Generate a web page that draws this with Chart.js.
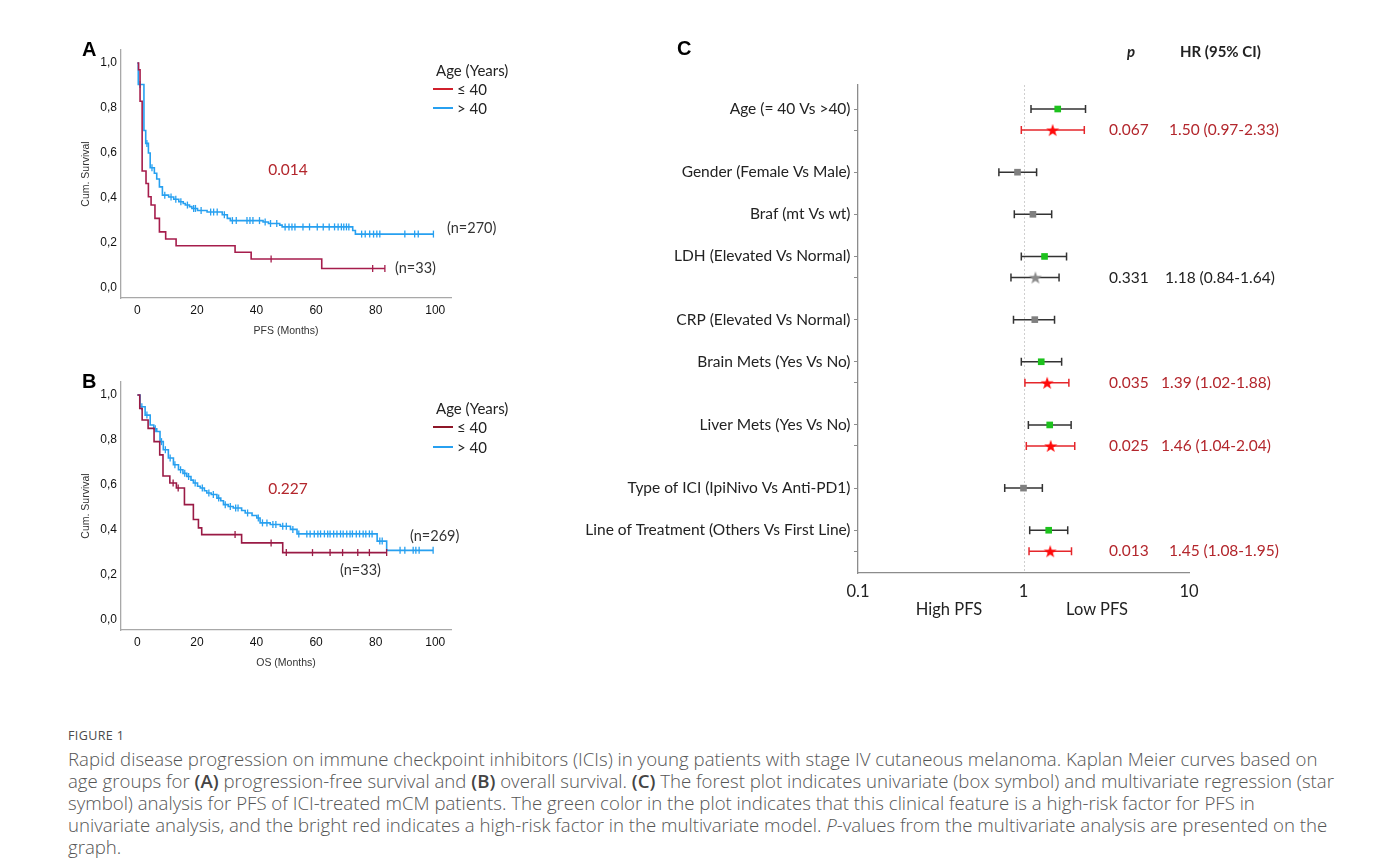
<!DOCTYPE html>
<html>
<head>
<meta charset="utf-8">
<title>Figure 1</title>
<script src="https://cdn.jsdelivr.net/npm/chart.js@4.4.1/dist/chart.umd.min.js"></script>
<style>
  html, body { margin: 0; padding: 0; background: #fff; }
  #page { position: relative; width: 1373px; height: 859px; overflow: hidden; font-family: Lato, "Open Sans", sans-serif; }
  canvas { position: absolute; }
  .t { position: absolute; white-space: nowrap; line-height: 1; transform: translateY(-50%); }
  .c { transform: translate(-50%, -50%); }
  .letter { font-family: "Liberation Sans", Arial, sans-serif; font-weight: bold; font-size: 20px; color: #000; }
  .leg { font-size: 15px; color: #222; }
  .key { position: absolute; width: 20px; height: 0; border-top: 2px solid; }
  .pval { font-size: 15.5px; color: #b3262c; }
  .note { font-size: 14.5px; color: #333; }
  .fx { font-size: 15.5px; }
  .head { font-size: 15px; font-weight: bold; color: #222; }
  .cap { position: absolute; left: 68px; color: #555; font-family: "Open Sans", "Noto Sans", sans-serif; white-space: nowrap; }
  #figno { top: 726px; font-size: 12.5px; letter-spacing: 0.4px; line-height: 20px; color: #4a4a4a; }
  #capBody { top: 748px; font-size: 16px; line-height: 22px; font-weight: 300; }
  #capBody b { font-weight: 600; color: #444; }
</style>
</head>
<body>
<div id="page">
  <canvas id="pfsChart" width="470" height="320" style="left:60px; top:30px"></canvas>
  <canvas id="osChart" width="470" height="320" style="left:60px; top:362px"></canvas>
  <canvas id="forestChart" width="700" height="600" style="left:560px; top:30px"></canvas>

  <div class="t letter" style="left:82px; top:49px">A</div>
  <div class="t letter" style="left:82px; top:381px">B</div>
  <div class="t letter" style="left:677px; top:48px">C</div>

  <!-- panel A notes -->
  <div class="t leg" style="left:436px; top:70px">Age (Years)</div>
  <div class="key" style="left:433px; top:88px; border-color:#d0202c"></div>
  <div class="t leg" style="left:457px; top:89px">≤ 40</div>
  <div class="key" style="left:433px; top:107px; border-color:#27a0f0"></div>
  <div class="t leg" style="left:457px; top:108px">&gt; 40</div>
  <div class="t pval c" style="left:288px; top:170px">0.014</div>
  <div class="t note" style="left:447px; top:228px">(n=270)</div>
  <div class="t note" style="left:395px; top:268px">(n=33)</div>

  <!-- panel B notes -->
  <div class="t leg" style="left:436px; top:408px">Age (Years)</div>
  <div class="key" style="left:433px; top:426px; border-color:#8e1628"></div>
  <div class="t leg" style="left:457px; top:427px">≤ 40</div>
  <div class="key" style="left:433px; top:446px; border-color:#27a0f0"></div>
  <div class="t leg" style="left:457px; top:447px">&gt; 40</div>
  <div class="t pval c" style="left:288px; top:489px">0.227</div>
  <div class="t note" style="left:410px; top:536px">(n=269)</div>
  <div class="t note" style="left:340px; top:570px">(n=33)</div>

  <!-- panel C headers -->
  <div class="t head" style="left:1127px; top:51px; font-style:italic">p</div>
  <div class="t head" style="left:1180px; top:51px">HR (95% CI)</div>
  <div class="t fx c" style="left:949px; top:609px; font-size:16.5px; color:#222">High PFS</div>
  <div class="t fx c" style="left:1097px; top:609px; font-size:16.5px; color:#222">Low PFS</div>
  <div id="forestText"></div>

  <div class="cap" id="figno">FIGURE 1</div>
  <div class="cap" id="capBody">
    <span id="firstLine">Rapid disease progression on immune checkpoint inhibitors (ICIs) in young patients with stage IV cutaneous melanoma. Kaplan Meier curves based on</span><br>
    age groups for <b>(A)</b> progression-free survival and <b>(B)</b> overall survival. <b>(C)</b> The forest plot indicates univariate (box symbol) and multivariate regression (star<br>
    symbol) analysis for PFS of ICI-treated mCM patients. The green color in the plot indicates that this clinical feature is a high-risk factor for PFS in<br>
    univariate analysis, and the bright red indicates a high-risk factor in the multivariate model. <i>P</i>-values from the multivariate analysis are presented on the<br>
    graph.
  </div>
</div>

<script>
// ---- Kaplan Meier data (time in months, cumulative survival, censored flag) ----
const monthTicks = [0, 20, 40, 60, 80, 100];
const monthTickLabels = ['0', '20', '40', '60', '80', '100'];
const survTicks = [0, 0.2, 0.4, 0.6, 0.8, 1.0];
const survTickLabels = ['0,0', '0,2', '0,4', '0,6', '0,8', '1,0'];

// PFS, age <= 40
const pfsYoungT = [0, 0.4, 0.9, 1.6, 2.9, 3.7, 4.6, 5.9, 7.4, 9.5, 13.0, 32.8, 38.2, 44.9, 61.9, 79.0, 83.1];
const pfsYoungS = [1.0, 0.97, 0.83, 0.52, 0.465, 0.406, 0.369, 0.31, 0.25, 0.218, 0.188, 0.159, 0.129, 0.129, 0.087, 0.087, 0.087];
const pfsYoungC = [0, 0, 0, 0, 0, 0, 0, 0, 0, 0, 0, 0, 0, 1, 0, 1, 1];

// PFS, age > 40
const pfsOldT = [0, 0.3, 0.9, 2.2, 2.8, 3.2, 3.7, 4.3, 4.9, 5.7, 6.5, 7.4, 8.4, 9.2, 10.5, 11.3, 12.2, 12.9, 13.9, 14.6,
  15.4, 16.1, 16.8, 17.5, 18.3, 18.9, 19.5, 20.2, 21.4, 23.4, 24.6, 25.6, 26.8, 28.5, 29.2, 30.2, 31.2, 31.9, 33.2, 36.8,
  37.8, 38.8, 41.0, 42.2, 42.9, 44.0, 44.7, 46.8, 47.8, 48.6, 49.6, 50.9, 51.9, 52.9, 55.6, 57.8, 60.4, 62.4, 64.4, 66.2,
  67.4, 68.5, 69.3, 70.2, 71.0, 72.3, 73.2, 75.3, 76.5, 78.0, 79.3, 80.4, 81.4, 89.8, 93.1, 94.3, 99.4];
const pfsOldS = [1.0, 0.905, 0.905, 0.70, 0.643, 0.643, 0.60, 0.535, 0.535, 0.51, 0.485, 0.45, 0.413, 0.413, 0.405, 0.405, 0.395, 0.395, 0.384, 0.384,
  0.376, 0.369, 0.369, 0.362, 0.354, 0.354, 0.354, 0.345, 0.345, 0.338, 0.338, 0.338, 0.338, 0.326, 0.326, 0.31, 0.30, 0.30, 0.30, 0.30,
  0.30, 0.30, 0.30, 0.294, 0.294, 0.287, 0.287, 0.287, 0.28, 0.272, 0.272, 0.272, 0.272, 0.272, 0.272, 0.272, 0.272, 0.272, 0.272, 0.272,
  0.272, 0.272, 0.272, 0.272, 0.272, 0.256, 0.24, 0.24, 0.24, 0.24, 0.24, 0.24, 0.24, 0.24, 0.24, 0.24, 0.24];
const pfsOldC = [0, 0, 1, 0, 0, 1, 0, 0, 1, 0, 0, 0, 0, 1, 0, 1, 0, 1, 0, 1,
  0, 0, 1, 0, 0, 1, 1, 0, 1, 0, 1, 1, 1, 0, 1, 0, 0, 1, 1, 1,
  1, 1, 1, 0, 1, 0, 1, 1, 0, 0, 1, 1, 1, 1, 1, 1, 1, 1, 1, 1,
  1, 1, 1, 1, 1, 0, 0, 1, 1, 1, 1, 1, 1, 1, 1, 1, 1];

// OS, age <= 40
const osYoungT = [0, 0.8, 1.6, 3.6, 5.6, 7.5, 8.6, 10.9, 12.0, 13.1, 13.7, 15.8, 18.8, 20.5, 21.6, 32.8, 35.0, 44.9, 48.8, 50.0, 58.8, 64.7, 68.9, 74.0, 77.9, 83.7];
const osYoungS = [1.0, 0.94, 0.889, 0.852, 0.793, 0.734, 0.64, 0.609, 0.609, 0.587, 0.587, 0.513, 0.447, 0.41, 0.38, 0.38, 0.343, 0.343, 0.30, 0.30, 0.30, 0.30, 0.30, 0.30, 0.30, 0.30];
const osYoungC = [0, 0, 0, 0, 0, 0, 0, 0, 1, 0, 1, 0, 0, 0, 0, 1, 0, 1, 0, 1, 1, 1, 1, 1, 1, 1];

// OS, age > 40
const osOldT = [0, 0.9, 1.5, 2.6, 3.2, 4.3, 5.5, 6.0, 6.5, 7.6, 8.1, 8.7, 9.4, 10.4, 11.0, 12.1, 12.6, 13.8, 14.5, 15.3,
  15.9, 16.6, 17.2, 18.0, 18.8, 19.4, 20.2, 21.1, 21.8, 22.5, 23.3, 24.0, 24.8, 25.5, 26.7, 27.3, 28.0, 28.9, 29.5, 30.5,
  31.2, 32.2, 33.0, 33.8, 35.0, 36.2, 37.0, 38.5, 40.1, 40.6, 41.2, 42.0, 43.5, 44.6, 45.5, 46.5, 48.0, 48.8, 50.0, 51.4,
  52.2, 53.6, 54.2, 56.9, 58.0, 59.4, 60.6, 61.5, 62.8, 63.9, 64.7, 65.9, 67.0, 68.2, 69.1, 70.3, 71.4, 72.2, 73.5, 74.6,
  75.8, 76.7, 77.9, 78.8, 80.5, 81.4, 82.2, 83.7, 88.2, 89.8, 92.6, 93.5, 94.6, 99.3];
const osOldS = [1.0, 0.948, 0.948, 0.911, 0.911, 0.867, 0.85, 0.85, 0.838, 0.793, 0.793, 0.757, 0.757, 0.72, 0.72, 0.69, 0.69, 0.668, 0.668, 0.652,
  0.652, 0.638, 0.638, 0.622, 0.609, 0.609, 0.595, 0.587, 0.587, 0.575, 0.565, 0.565, 0.558, 0.558, 0.542, 0.542, 0.53, 0.513, 0.513, 0.505,
  0.505, 0.498, 0.498, 0.498, 0.487, 0.476, 0.476, 0.465, 0.454, 0.454, 0.432, 0.432, 0.432, 0.425, 0.425, 0.425, 0.417, 0.417, 0.417, 0.403,
  0.403, 0.383, 0.383, 0.383, 0.383, 0.383, 0.383, 0.383, 0.383, 0.383, 0.383, 0.383, 0.383, 0.383, 0.383, 0.383, 0.383, 0.383, 0.383, 0.383,
  0.383, 0.383, 0.383, 0.383, 0.351, 0.351, 0.351, 0.31, 0.31, 0.31, 0.31, 0.31, 0.31, 0.31];
const osOldC = [0, 0, 1, 0, 1, 0, 0, 1, 0, 0, 1, 0, 1, 0, 1, 0, 1, 0, 1, 0,
  1, 0, 1, 0, 0, 1, 0, 0, 1, 0, 0, 1, 0, 1, 0, 1, 0, 0, 1, 0,
  1, 0, 1, 1, 0, 0, 1, 0, 0, 1, 0, 1, 1, 0, 1, 1, 0, 1, 1, 0,
  1, 0, 1, 1, 1, 1, 1, 1, 1, 1, 1, 1, 1, 1, 1, 1, 1, 1, 1, 1,
  1, 1, 1, 1, 0, 1, 1, 0, 1, 1, 1, 1, 1, 1];

// ---- Forest plot data ----
const factorLabels = ['Age (= 40 Vs >40)', 'Gender (Female Vs Male)', 'Braf (mt Vs wt)', 'LDH (Elevated Vs Normal)',
  'CRP (Elevated Vs Normal)', 'Brain Mets (Yes Vs No)', 'Liver Mets (Yes Vs No)', 'Type of ICI (IpiNivo Vs Anti-PD1)',
  'Line of Treatment (Others Vs First Line)'];
const uniRow = [0, 3, 5, 7, 10, 12, 15, 18, 20];
const uniHR = [1.61, 0.92, 1.14, 1.34, 1.17, 1.28, 1.44, 1.00, 1.42];
const uniLow = [1.11, 0.71, 0.88, 0.97, 0.87, 0.97, 1.07, 0.77, 1.09];
const uniHigh = [2.37, 1.20, 1.48, 1.82, 1.54, 1.70, 1.94, 1.30, 1.85];
const uniSig = [true, false, false, true, false, true, true, false, true];

const multiRow = [1, 8, 13, 16, 21];
const multiHR = [1.50, 1.18, 1.39, 1.46, 1.45];
const multiLow = [0.97, 0.84, 1.02, 1.04, 1.08];
const multiHigh = [2.33, 1.64, 1.88, 2.04, 1.95];
const multiP = ['0.067', '0.331', '0.035', '0.025', '0.013'];
const multiSig = [true, false, true, true, true];

const hrTicks = [0.1, 1, 10];
const hrTickLabels = ['0.1', '1', '10'];

const axisFont = '"Liberation Sans", Arial, sans-serif';
const youngColor = '#a61d4c';
const oldColor = '#27a0f0';

function kmDataset(T, S, C, color) {
    return {
        data: T.map((t, i) => ({ x: t, y: S[i] })),
        stepped: 'before',
        borderColor: color,
        borderWidth: 1.6,
        fill: false,
        pointStyle: 'line',
        pointRotation: 90,
        pointRadius: C.map(c => c ? 3.5 : 0),
        pointHoverRadius: 0,
        pointBorderColor: color,
        pointBorderWidth: 1.3
    };
}

function kmChart(id, xTitle, young, old) {
    return new Chart(document.getElementById(id), {
        type: 'line',
        data: { datasets: [young, old] },
        options: {
            responsive: false,
            animation: false,
            layout: { padding: { top: 20, right: 79, bottom: 0, left: 0 } },
            plugins: { legend: { display: false }, tooltip: { enabled: false } },
            scales: {
                x: {
                    type: 'linear', min: -5.5, max: 105.3,
                    afterBuildTicks: ax => { ax.ticks = monthTicks.map(v => ({ value: v })); },
                    afterFit: ax => { ax.height = 52; },
                    grid: { display: false, drawTicks: false },
                    border: { color: '#a8a8a8', width: 1.3 },
                    ticks: { padding: 5, color: '#111', font: { family: axisFont, size: 12 },
                             callback: (v, i) => monthTickLabels[i] },
                    title: { display: true, text: xTitle, color: '#333',
                             font: { family: axisFont, size: 10.5 }, padding: { top: 0, bottom: 12.5 } }
                },
                y: {
                    type: 'linear', min: -0.044, max: 1.058,
                    afterBuildTicks: ax => { ax.ticks = survTicks.map(v => ({ value: v })); },
                    afterFit: ax => { ax.width = 61; },
                    grid: { display: false, drawTicks: false },
                    border: { color: '#a8a8a8', width: 1.3 },
                    ticks: { padding: 4, color: '#111', font: { family: axisFont, size: 12 },
                             callback: (v, i) => survTickLabels[i] },
                    title: { display: true, text: 'Cum. Survival', color: '#333',
                             font: { family: axisFont, size: 10.5 }, padding: { top: 20, bottom: 0 } }
                }
            }
        }
    });
}

kmChart('pfsChart', 'PFS (Months)',
    kmDataset(pfsYoungT, pfsYoungS, pfsYoungC, youngColor),
    kmDataset(pfsOldT, pfsOldS, pfsOldC, oldColor));
kmChart('osChart', 'OS (Months)',
    kmDataset(osYoungT, osYoungS, osYoungC, '#9a1a45'),
    kmDataset(osOldT, osOldS, osOldC, oldColor));

// filled star marker for the multivariate estimates
function starImage(color) {
    const c = document.createElement('canvas');
    c.width = 14; c.height = 14;
    const g = c.getContext('2d');
    g.fillStyle = color;
    g.beginPath();
    for (let k = 0; k < 10; k++) {
        const r = k % 2 ? 2.7 : 6.8;
        const a = -Math.PI / 2 + k * Math.PI / 5;
        g.lineTo(7 + r * Math.cos(a), 7.6 + r * Math.sin(a));
    }
    g.closePath();
    g.fill();
    return c;
}

// error bars + reference line at HR = 1
const errorBars = {
    id: 'errorBars',
    beforeDatasetsDraw(chart) {
        const { ctx, chartArea, scales: { x, y } } = chart;
        ctx.save();
        ctx.strokeStyle = '#cfcfcf';
        ctx.lineWidth = 1;
        ctx.setLineDash([2, 2]);
        const x1 = Math.round(x.getPixelForValue(1)) + 0.5;
        ctx.beginPath();
        ctx.moveTo(x1, chartArea.top);
        ctx.lineTo(x1, chartArea.bottom);
        ctx.stroke();
        ctx.setLineDash([]);
        chart.data.datasets.forEach(ds => {
            ds.data.forEach((p, i) => {
                const xl = x.getPixelForValue(p.lo), xh = x.getPixelForValue(p.hi);
                const yy = y.getPixelForValue(p.y);
                ctx.strokeStyle = ds.barColor[i];
                ctx.lineWidth = 1.5;
                ctx.beginPath();
                ctx.moveTo(xl, yy); ctx.lineTo(xh, yy);
                ctx.moveTo(xl, yy - 4); ctx.lineTo(xl, yy + 4);
                ctx.moveTo(xh, yy - 4); ctx.lineTo(xh, yy + 4);
                ctx.stroke();
            });
        });
        ctx.restore();
    }
};

const rowTicks = uniRow.concat(multiRow).sort((a, b) => a - b);

const forest = new Chart(document.getElementById('forestChart'), {
    type: 'scatter',
    data: {
        datasets: [
            {
                data: uniRow.map((r, i) => ({ x: uniHR[i], y: r, lo: uniLow[i], hi: uniHigh[i] })),
                pointStyle: 'rect',
                pointRadius: 4.7,
                pointHoverRadius: 4.7,
                borderWidth: 0,
                backgroundColor: uniSig.map(s => s ? '#1dc21d' : '#808080'),
                barColor: uniRow.map(() => '#333333')
            },
            {
                data: multiRow.map((r, i) => ({ x: multiHR[i], y: r, lo: multiLow[i], hi: multiHigh[i] })),
                pointStyle: multiSig.map(s => starImage(s ? '#ff0a0a' : '#8a8a8a')),
                pointRadius: 7,
                barColor: multiSig.map(s => s ? '#e5262b' : '#333333')
            }
        ]
    },
    options: {
        responsive: false,
        animation: false,
        layout: { padding: { top: 55, right: 71, bottom: 0, left: 0 } },
        plugins: { legend: { display: false }, tooltip: { enabled: false } },
        scales: {
            x: {
                type: 'logarithmic', min: 0.1, max: 10,
                afterBuildTicks: ax => { ax.ticks = hrTicks.map(v => ({ value: v })); },
                afterFit: ax => { ax.height = 57; },
                grid: { display: false, drawTicks: false },
                border: { color: '#8c8c8c', width: 1.3 },
                ticks: { padding: 9, color: '#222', font: { family: 'Lato, sans-serif', size: 16.5 },
                         callback: (v, i) => hrTickLabels[i] }
            },
            y: {
                type: 'linear', min: -1.14, max: 22.03, reverse: true,
                afterBuildTicks: ax => { ax.ticks = rowTicks.map(v => ({ value: v })); },
                afterFit: ax => { ax.width = 298; },
                grid: { display: true, drawOnChartArea: false, drawTicks: true, tickLength: 4, color: '#8c8c8c' },
                border: { color: '#8c8c8c', width: 1.3 },
                ticks: { padding: 3.5, color: '#222', font: { family: 'Lato, sans-serif', size: 15.5 },
                         callback: v => { const k = uniRow.indexOf(v); return k >= 0 ? factorLabels[k] : ''; } }
            }
        }
    },
    plugins: [errorBars]
});

// p-values and HR (95% CI) next to the multivariate rows
const hrTextLeft = [1169, 1165, 1161, 1161, 1169];
const holder = document.getElementById('forestText');
multiRow.forEach((r, i) => {
    const top = 30 + forest.scales.y.getPixelForValue(r);
    const color = multiSig[i] ? '#b3262c' : '#222';
    const hrText = multiHR[i].toFixed(2) + ' (' + multiLow[i].toFixed(2) + '-' + multiHigh[i].toFixed(2) + ')';
    holder.insertAdjacentHTML('beforeend',
        '<div class="t fx" style="left:1109px; top:' + top + 'px; color:' + color + '">' + multiP[i] + '</div>' +
        '<div class="t fx" style="left:' + hrTextLeft[i] + 'px; top:' + top + 'px; color:' + color + '">' + hrText + '</div>');
});

// fit caption width to the reference line length
const range = document.createRange();
range.selectNodeContents(document.getElementById('firstLine'));
const w = range.getBoundingClientRect().width;
document.getElementById('capBody').style.fontSize = (16 * 1250 / w).toFixed(2) + 'px';
</script>
</body>
</html>
